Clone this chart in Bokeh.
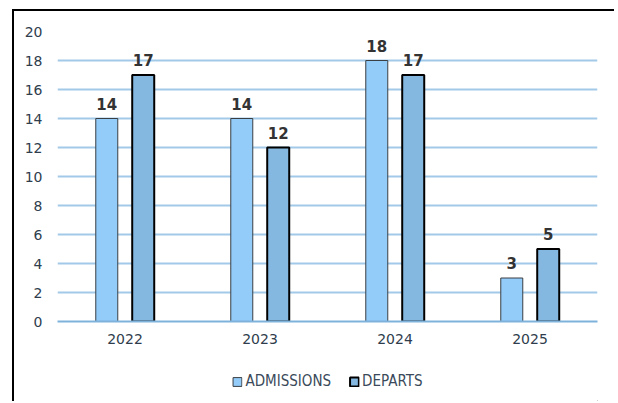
from bokeh.plotting import figure
from bokeh.layouts import column
from bokeh.models import ColumnDataSource, FactorRange, LabelSet, Legend, LegendItem, FixedTicker
from bokeh.core.properties import value
from bokeh.transform import dodge
from bokeh.embed import file_html
from bokeh.resources import INLINE

years = ["2022", "2023", "2024", "2025"]
admissions = [14, 14, 18, 3]
departs = [17, 12, 17, 5]
y_ticks = [0, 2, 4, 6, 8, 10, 12, 14, 16, 18, 20]
series_names = ["ADMISSIONS", "DEPARTS"]

ADM_FILL, ADM_LINE, ADM_W = "#93CBF9", "#3a3f44", 1
DEP_FILL, DEP_LINE, DEP_W = "#85B8E1", "#000000", 2

src = ColumnDataSource(dict(
    years=years, admissions=admissions, departs=departs,
    adm_lbl=[str(v) for v in admissions], dep_lbl=[str(v) for v in departs],
))

p = figure(x_range=FactorRange(*years), y_range=(0, 20), width=600, height=350,
           output_backend="svg", toolbar_location=None,
           min_border_left=43, min_border_right=17, min_border_top=20, min_border_bottom=40)
p.outline_line_color = None
p.x_range.range_padding = 0

r1 = p.vbar(x=dodge("years", -0.135, range=p.x_range), top="admissions", width=0.163, source=src,
            fill_color=ADM_FILL, line_color=ADM_LINE, line_width=ADM_W)
r2 = p.vbar(x=dodge("years", 0.135, range=p.x_range), top="departs", width=0.163, source=src,
            fill_color=DEP_FILL, line_color=DEP_LINE, line_width=DEP_W)

for xoff, col, ycol in ((-0.135, "adm_lbl", "admissions"), (0.135, "dep_lbl", "departs")):
    p.add_layout(LabelSet(x=dodge("years", xoff, range=p.x_range), y=ycol, text=col, source=src,
                          y_offset=9, text_align="center", text_baseline="bottom",
                          text_font=value("DejaVu Sans"), text_font_size="15px",
                          text_font_style="bold", text_color="#333333"))

p.yaxis.ticker = FixedTicker(ticks=y_ticks)
p.ygrid.ticker = FixedTicker(ticks=y_ticks)
p.ygrid.grid_line_color = "#A3C9E8"
p.ygrid.grid_line_width = 2
p.xgrid.grid_line_color = None

p.yaxis.axis_line_color = None
p.yaxis.major_tick_line_color = None
p.yaxis.minor_tick_line_color = None
p.yaxis.major_tick_out = 0
p.yaxis.major_label_standoff = 15
p.xaxis.axis_line_color = "#7FB2DB"
p.xaxis.axis_line_width = 2
p.xaxis.major_tick_line_color = None
p.xaxis.minor_tick_line_color = None
p.xaxis.major_tick_out = 0
p.xaxis.major_label_standoff = 12
for ax in (p.xaxis, p.yaxis):
    ax.major_label_text_font = "DejaVu Sans"
    ax.major_label_text_font_size = "14px"
    ax.major_label_text_color = "#2f3d4d"

# legend panel (stand-in renderers placed far off-canvas, only used for legend swatches)
lg = figure(width=600, height=40, x_range=(0, 1), y_range=(0, 1),
            output_backend="svg", toolbar_location=None,
            min_border_left=10, min_border_right=0, min_border_top=0, min_border_bottom=0)
lg.axis.visible = False
lg.grid.visible = False
lg.outline_line_color = None
d1 = lg.vbar(x=[100], bottom=[-200], top=[-199], width=0.01, fill_color=ADM_FILL, line_color=ADM_LINE, line_width=ADM_W)
d2 = lg.vbar(x=[100], bottom=[-200], top=[-199], width=0.01, fill_color=DEP_FILL, line_color=DEP_LINE, line_width=DEP_W)
legend = Legend(items=[LegendItem(label=series_names[0], renderers=[d1]),
                       LegendItem(label=series_names[1], renderers=[d2])],
                orientation="horizontal", location="center",
                label_text_font="DejaVu Sans Condensed", label_text_font_size="15px",
                label_text_color="#3a4a5a", glyph_width=11, glyph_height=11,
                label_standoff=3, spacing=17, padding=0, margin=0,
                border_line_color=None, background_fill_alpha=0)
lg.add_layout(legend)

layout = column(p, lg, spacing=0)
layout.styles = {"border-left": "2px solid #000", "border-top": "2px solid #000"}
layout.margin = (9, 0, 0, 12)

open("out.html", "w").write(file_html(layout, INLINE))
